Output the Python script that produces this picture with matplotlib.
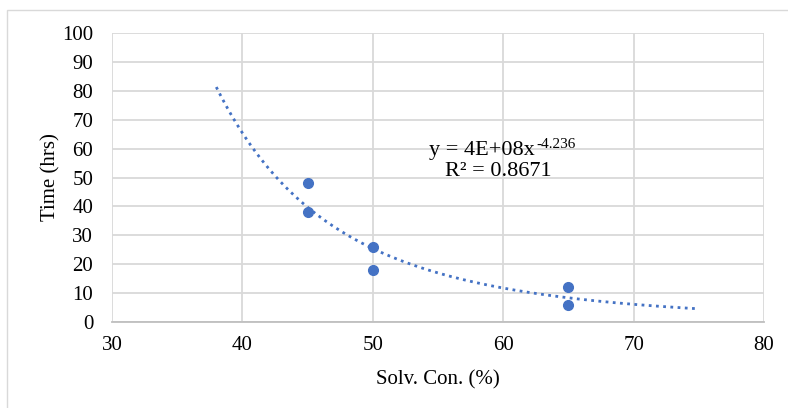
import numpy as np
import matplotlib.pyplot as plt
from matplotlib.patches import Rectangle

plt.rcParams['font.family'] = ['Liberation Serif', 'DejaVu Serif']

# measured runs
solvent_pct = [45, 45, 50, 50, 65, 65]
time_hrs = [48, 38, 26, 18, 12, 6]

# power trendline y = a * x^b, as reported
fit_a = 4e8
fit_b = -4.236
fit_r2 = 0.8671
fit_range = (38, 75)

blue = '#4472C4'
grid_grey = '#d9d9d9'

fig = plt.figure(figsize=(7.88, 4.08), dpi=100)
ax = fig.add_axes([0.1421, 0.2108, 0.8274, 0.7083])

# outer chart border
fig.patches.append(Rectangle((7 / 788, -0.1), 1.1, 1 - 10 / 408 + 0.1,
                             transform=fig.transFigure, fill=False,
                             edgecolor=grid_grey, linewidth=1.0))

xs = np.linspace(fit_range[0], fit_range[1], 200)
ax.plot(xs, fit_a * xs ** fit_b, linestyle=(0, (1, 1.6)), color=blue,
        linewidth=2.0, zorder=2)
ax.plot(solvent_pct, time_hrs, 'o', color=blue, markersize=7, zorder=3)

ax.set_xlim(30, 80)
ax.set_ylim(0, 100)
ax.set_xticks(range(30, 81, 10))
ax.set_yticks(range(0, 101, 10))
ax.grid(True, color=grid_grey, linewidth=1.3)
ax.set_axisbelow(True)
for side in ['top', 'right', 'left']:
    ax.spines[side].set_visible(False)
ax.spines['bottom'].set_color('#bfbfbf')
ax.spines['bottom'].set_linewidth(1.3)
ax.tick_params(length=0, labelsize=15)
ax.tick_params(axis='x', pad=10)
ax.tick_params(axis='y', pad=13.5)

ax.set_xlabel('Solv. Con. (%)', fontsize=15, labelpad=11)
ax.set_ylabel('Time (hrs)', fontsize=15, labelpad=1)

# trendline equation, exponent set as a raised smaller label
eq = ax.text(58.4, 59.5, 'y = 4E+08x', ha='center', va='center', fontsize=16)
ax.annotate('%.3f' % fit_b, xy=(1, 1), xycoords=eq, xytext=(0.5, 1.5),
            textcoords='offset points', ha='left', va='top', fontsize=11)
ax.text(59.6, 52.2, 'R² = %.4f' % fit_r2, ha='center', va='center',
        fontsize=16)

fig.savefig('out.png', dpi=100)
